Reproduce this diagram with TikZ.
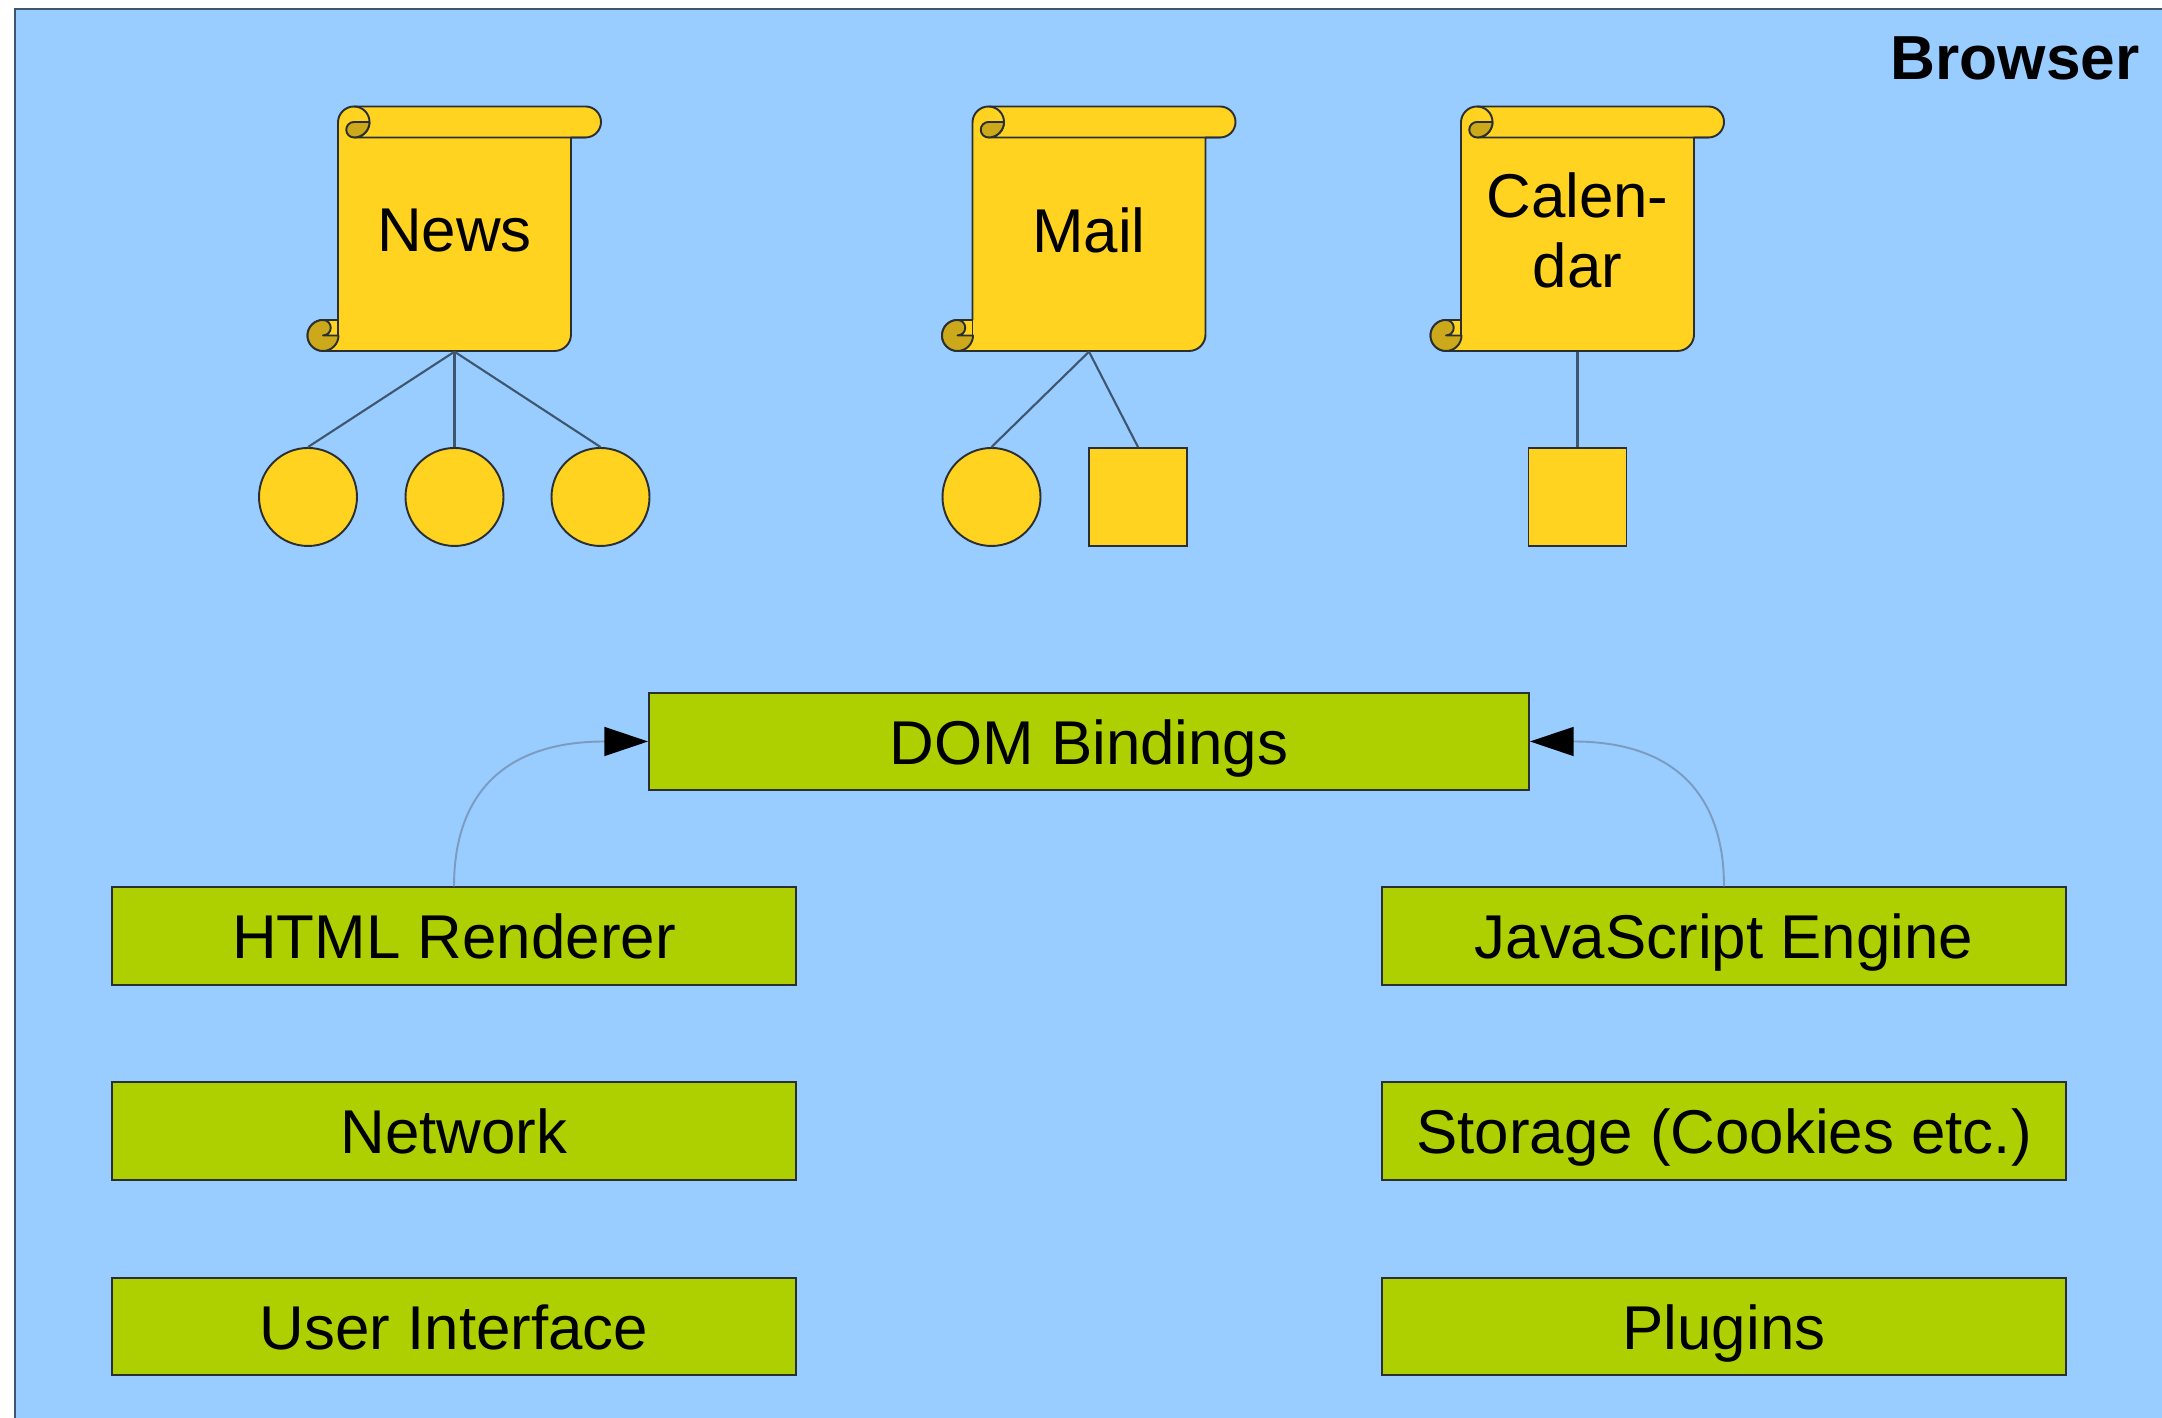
\documentclass[tikz,border=0pt]{standalone}
\usepackage{fontspec}
\setmainfont{Liberation Sans}
\usetikzlibrary{arrows.meta}
\definecolor{skyblue}{HTML}{99CCFF}
\definecolor{scrollyellow}{HTML}{FFD320}
\definecolor{scrolldark}{HTML}{CCA91A}
\definecolor{layergreen}{HTML}{AED000}
\definecolor{edgegrey}{HTML}{2A2F33}
\definecolor{linkblue}{HTML}{3F5670}
\definecolor{callblue}{HTML}{7C9CBF}
\tikzset{
	lbl/.style={font=\fontsize{17.6}{20}\selectfont, text=black, align=center},
	layer/.style={lbl, draw=edgegrey, line width=0.55pt, fill=layergreen, minimum height=0.975cm, inner sep=0pt, text height=15.4pt, text depth=2.4pt},
	wide/.style={layer, minimum width=6.84cm},
	ball/.style={circle, draw=edgegrey, line width=0.55pt, fill=scrollyellow, minimum size=0.98cm, inner sep=0pt},
	tile/.style={rectangle, draw=edgegrey, line width=0.55pt, fill=scrollyellow, minimum size=0.98cm, inner sep=0pt},
	paper/.style={draw=edgegrey, line width=0.55pt, fill=scrollyellow, line join=round},
	curl/.style={draw=edgegrey, line width=0.55pt, fill=scrolldark, line join=round},
	link/.style={draw=linkblue, line width=0.6pt},
	call/.style={draw=callblue, line width=0.55pt, -{Triangle[length=12.4pt,width=8.2pt,color=black]}},
}
\newcommand{\scrollnode}[3]{
	\begin{scope}[shift={(#2,11.89)}]
		\path[paper] (-1.165,1.065) arc (180:90:0.16) -- (1.31,1.225)
			arc (90:-90:0.155) -- (1.165,0.915) -- (1.165,-1.055)
			arc (0:-90:0.165) -- (-1.315,-1.22) arc (270:90:0.155)
			-- (-1.165,-0.91) -- cycle;
		\draw[edgegrey, line width=0.55pt] (1.31,0.915) -- (-1.005,0.915) arc (-90:90:0.155);
		\path[curl] (-0.85,1.07) -- (-1.005,1.07) arc (90:270:0.0775) arc (-90:0:0.155) -- cycle;
		\draw[edgegrey, line width=0.55pt] (-1.165,-0.91) -- (-1.165,-1.065);
		\path[curl] (-1.16,-1.065) -- (-1.315,-1.065) arc (-90:90:0.0775) arc (90:360:0.155) -- cycle;
	\end{scope}
	\node[lbl, minimum width=2.33cm, minimum height=2.412cm, inner sep=0pt] at (#2,11.876)(#1){#3};
}
\begin{document}
\begin{tikzpicture}
	\clip (0,0) rectangle (21.62,14.18);
	\path[fill=skyblue, draw=linkblue, line width=0.6pt] (0.15,-0.5) rectangle (22.5,14.09);
	\node[lbl, anchor=east, font=\fontsize{17.7}{20}\selectfont\bfseries] at (21.52,13.6)(browser){Browser};
	
	\scrollnode{news}{4.545}{News}
	\scrollnode{mail}{10.89}{Mail}
	\scrollnode{calendar}{15.775}{Calen-\\dar}
	
	\node[ball] at (3.08,9.21)(newsa){};
	\node[ball] at (4.545,9.21)(newsb){};
	\node[ball] at (6.005,9.21)(newsc){};
	\node[ball] at (9.915,9.21)(maila){};
	\node[tile] at (11.38,9.21)(mailb){};
	\node[tile] at (15.775,9.21)(calendara){};
	\path[link] (news.south) edge (newsa.north)
		(news.south) edge (newsb.north)
		(news.south) edge (newsc.north)
		(mail.south) edge (maila.north)
		(mail.south) edge (mailb.north)
		(calendar.south) edge (calendara.north);
	
	\node[layer, minimum width=8.8cm] at (10.89,6.765)(dom){DOM Bindings};
	\node[wide] at (4.54,4.82)(html){HTML Renderer};
	\node[wide] at (4.54,2.87)(network){Network};
	\node[wide] at (4.54,0.915)(ui){User Interface};
	\node[wide] at (17.24,4.82)(js){JavaScript Engine};
	\node[wide] at (17.24,2.87)(storage){Storage (Cookies etc.)};
	\node[wide] at (17.24,0.915)(plugins){Plugins};
	
	\draw[call] (html.north) .. controls +(0,0.87) and +(-1.49,0) .. (dom.west);
	\draw[call] (js.north) .. controls +(0,0.87) and +(1.49,0) .. (dom.east);
\end{tikzpicture}
\end{document}
